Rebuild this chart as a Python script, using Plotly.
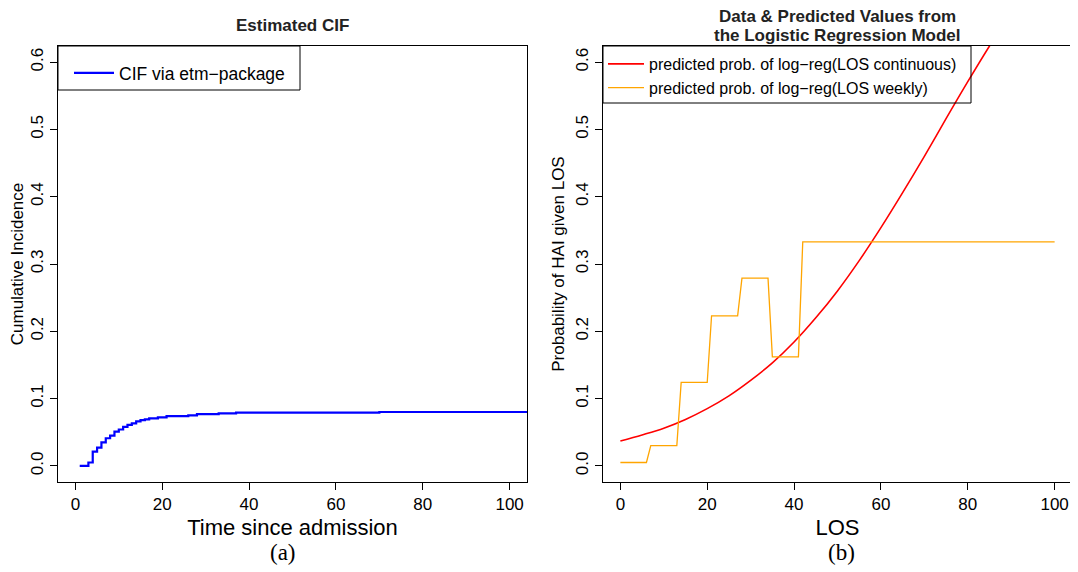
import plotly.graph_objects as go

# The page body adds an 8px margin, so the figure is drawn 8px smaller and
# all pixel positions below are given in window coordinates, shifted by OFF.
WIN_W, WIN_H = 1078, 572
OFF = 8
W, H = WIN_W - OFF, WIN_H - OFF

# ---------------- data ----------------
cif_time = [1, 3, 4, 5, 6, 7, 8, 9, 10, 11, 12, 13, 14, 15, 16, 17, 19, 21, 26, 28, 33, 37, 70, 110]
cif_value = [0.000, 0.005, 0.021, 0.027, 0.035, 0.041, 0.045, 0.051, 0.054, 0.058, 0.061,
             0.063, 0.066, 0.068, 0.069, 0.0705, 0.072, 0.074, 0.075, 0.077, 0.078, 0.079,
             0.080, 0.080]

los_cont = [0, 5, 10, 15, 20, 25, 30, 35, 40, 45, 50, 55, 60, 65, 70, 75, 80, 85, 90]
pred_cont = [0.037, 0.046, 0.056, 0.069, 0.085, 0.104, 0.127, 0.153, 0.184, 0.220, 0.260,
             0.305, 0.354, 0.406, 0.460, 0.516, 0.571, 0.624, 0.674]

los_week = [0, 6, 7, 13, 14, 20, 21, 27, 28, 34, 35, 41, 42, 100]
pred_week = [0.005, 0.005, 0.030, 0.030, 0.124, 0.124, 0.223, 0.223, 0.279, 0.279,
             0.162, 0.162, 0.333, 0.333]

x_ticks = [0, 20, 40, 60, 80, 100]
y_ticks = [0.0, 0.1, 0.2, 0.3, 0.4, 0.5, 0.6]


def fx(px):
    return (px - OFF) / W


def fy(py):
    return 1 - (py - OFF) / H


SANS = "Liberation Sans, Arial, sans-serif"
SERIF = "Liberation Serif, Times New Roman, serif"

fig = go.Figure()

fig.add_trace(go.Scatter(x=cif_time, y=cif_value, mode="lines", line_shape="hv",
                         line=dict(color="#0000FF", width=2.2),
                         name="CIF via etm\u2212package", xaxis="x", yaxis="y",
                         legend="legend", showlegend=True))
fig.add_trace(go.Scatter(x=los_cont, y=pred_cont, mode="lines", line_shape="spline",
                         line=dict(color="#FF0000", width=1.6),
                         name="predicted prob. of log\u2212reg(LOS continuous)",
                         xaxis="x2", yaxis="y2", legend="legend2", showlegend=True))
fig.add_trace(go.Scatter(x=los_week, y=pred_week, mode="lines",
                         line=dict(color="#FFA500", width=1.3),
                         name="predicted prob. of log\u2212reg(LOS weekly)",
                         xaxis="x2", yaxis="y2", legend="legend2", showlegend=True))

L1, R1, L2, R2, T, B = 58, 527, 603, 1072, 46, 482

axis_common = dict(showline=True, mirror=True, linecolor="black", linewidth=1,
                   ticks="outside", ticklen=7, tickwidth=1, tickcolor="black",
                   showgrid=False, zeroline=False,
                   tickfont=dict(family=SANS, size=17, color="black"))

fig.update_layout(
    width=W, height=H,
    margin=dict(l=0, r=0, t=0, b=0),
    paper_bgcolor="white", plot_bgcolor="white",
    showlegend=True,
    xaxis=dict(domain=[fx(L1), fx(R1)], range=[-4, 104], tickvals=x_ticks, anchor="y",
               title=dict(text="Time since admission", font=dict(family=SANS, size=22, color="black"), standoff=6),
               **axis_common),
    yaxis=dict(domain=[fy(B), fy(T)], range=[-0.024, 0.624], tickvals=y_ticks, tickformat=".1f",
               tickangle=-90, anchor="x",
               title=dict(text="Cumulative Incidence", font=dict(family=SANS, size=17, color="black"), standoff=6),
               **axis_common),
    xaxis2=dict(domain=[fx(L2), fx(R2)], range=[-4, 104], tickvals=x_ticks, anchor="y2",
                title=dict(text="LOS", font=dict(family=SANS, size=22, color="black"), standoff=6),
                **axis_common),
    yaxis2=dict(domain=[fy(B), fy(T)], range=[-0.024, 0.624], tickvals=y_ticks, tickformat=".1f",
                tickangle=-90, anchor="x2",
                title=dict(text="Probability of HAI given LOS", font=dict(family=SANS, size=17, color="black"), standoff=4),
                **axis_common),
    legend=dict(x=fx(69), y=fy(55), xanchor="left", yanchor="top", bgcolor="rgba(0,0,0,0)",
                borderwidth=0, itemwidth=40, font=dict(family=SANS, size=17.5, color="black")),
    legend2=dict(x=fx(603), y=fy(47), xanchor="left", yanchor="top", bgcolor="rgba(0,0,0,0)",
                 borderwidth=0, itemwidth=36, font=dict(family=SANS, size=16, color="black")),
    shapes=[
        dict(type="rect", xref="paper", yref="paper", x0=fx(L1), x1=fx(300), y0=fy(90), y1=fy(T),
             line=dict(color="black", width=1), fillcolor="rgba(0,0,0,0)"),
        dict(type="rect", xref="paper", yref="paper", x0=fx(L2), x1=fx(971), y0=fy(103), y1=fy(T),
             line=dict(color="black", width=1), fillcolor="rgba(0,0,0,0)"),
    ],
    annotations=[
        dict(text="<b>Estimated CIF</b>", x=fx((L1 + R1) / 2), y=fy(26), xref="paper", yref="paper",
             showarrow=False, xanchor="center", yanchor="middle",
             font=dict(family=SANS, size=17, color="#222222")),
        dict(text="<b>Data &amp; Predicted Values from</b>",
             x=fx((L2 + R2) / 2), y=fy(17), xref="paper", yref="paper",
             showarrow=False, xanchor="center", yanchor="middle",
             font=dict(family=SANS, size=17, color="#222222")),
        dict(text="<b>the Logistic Regression Model</b>",
             x=fx((L2 + R2) / 2), y=fy(36), xref="paper", yref="paper",
             showarrow=False, xanchor="center", yanchor="middle",
             font=dict(family=SANS, size=17, color="#222222")),
        dict(text="(a)", x=fx(283), y=fy(552), xref="paper", yref="paper", showarrow=False,
             xanchor="center", yanchor="middle", font=dict(family=SERIF, size=23, color="black")),
        dict(text="(b)", x=fx(841), y=fy(552), xref="paper", yref="paper", showarrow=False,
             xanchor="center", yanchor="middle", font=dict(family=SERIF, size=23, color="black")),
    ],
)

fig.write_html("out.html")
